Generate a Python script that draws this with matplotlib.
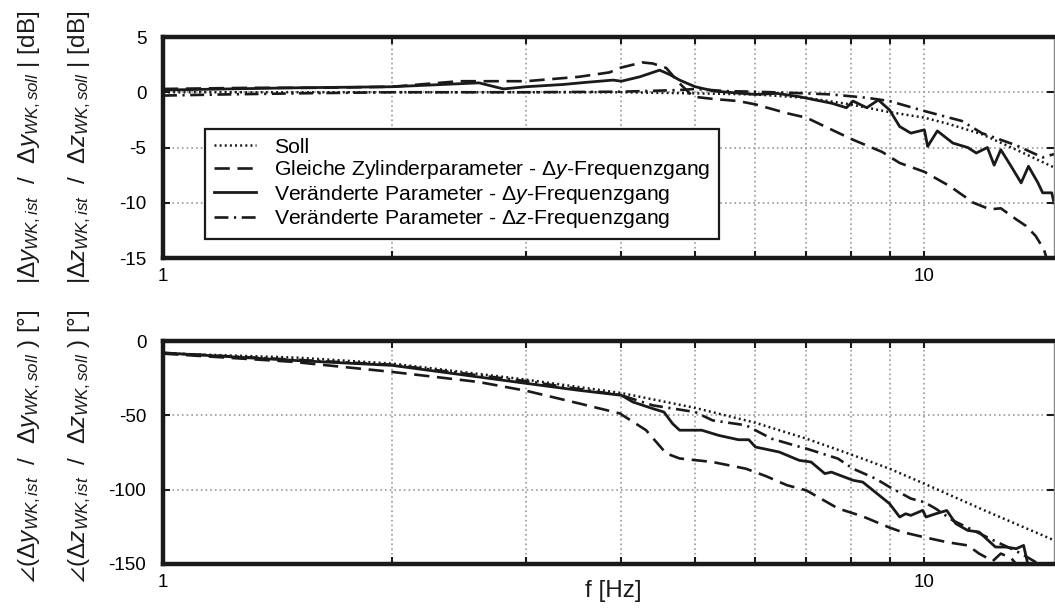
import matplotlib
matplotlib.use("Agg")
import matplotlib.pyplot as plt
from matplotlib.ticker import FixedLocator, NullFormatter, FixedFormatter
from matplotlib.lines import Line2D

plt.rcParams["font.family"] = ["Liberation Sans", "DejaVu Sans"]
plt.rcParams["mathtext.fontset"] = "custom"
plt.rcParams["mathtext.rm"] = "Liberation Sans"
plt.rcParams["mathtext.it"] = "Liberation Sans:italic"
plt.rcParams["mathtext.sf"] = "Liberation Sans"
plt.rcParams["mathtext.fallback"] = "stixsans"
plt.rcParams["lines.scale_dashes"] = False

# ---------------- Amplitudengang [dB] ----------------
f_soll_mag = [1.0, 2.0, 3.0, 4.0, 5.0, 6.0, 7.0, 8.0, 9.0, 10.0, 10.8, 11.9, 13.2, 14.8]
soll_mag = [0.0, 0.0, 0.0, 0.0, -0.1, -0.2, -0.5, -1.1, -1.8, -2.3, -2.9, -3.8, -5.2, -6.8]

f_gleich_mag = [1.0, 1.3, 1.6, 2.0, 2.45, 3.0, 3.52, 3.86, 3.98, 4.26, 4.4, 4.58, 4.77,
                4.97, 5.27, 5.7, 6.0, 6.6, 7.0, 7.56, 8.06, 8.8, 9.28, 10.0, 10.8,
                11.6, 12.2, 12.6, 13.2, 13.6, 14.0, 14.35, 14.5]
gleich_mag = [0.3, 0.4, 0.4, 0.5, 1.0, 1.0, 1.4, 1.8, 2.2, 2.7, 2.6, 2.2, 0.8,
              -0.4, -0.6, -0.8, -1.1, -1.9, -2.3, -3.4, -4.3, -5.4, -6.4, -7.2, -8.5,
              -10.0, -10.6, -10.5, -11.5, -12.1, -13.0, -14.2, -15.2]

f_dy_mag = [1.0, 1.48, 2.0, 2.6, 2.8, 3.0, 3.35, 3.6, 3.9, 4.0, 4.23, 4.49, 4.63, 4.77,
            5.0, 5.3, 6.0, 6.4, 6.85, 7.56, 7.9, 8.06, 8.4, 8.7, 9.0, 9.28, 9.6, 10.0,
            10.1, 10.4, 10.9, 11.4, 11.7, 12.1, 12.35, 12.6, 13.0, 13.4, 13.7, 14.1,
            14.3, 14.7, 14.8]
dy_mag = [0.2, 0.4, 0.5, 0.85, 0.3, 0.5, 0.7, 0.9, 1.1, 1.0, 1.4, 2.0, 1.6, 1.1,
          0.5, 0.1, -0.2, -0.1, -0.4, -1.0, -1.4, -0.8, -1.4, -0.7, -1.6, -3.1, -3.7, -3.4,
          -4.9, -3.5, -4.6, -5.0, -5.5, -5.0, -6.6, -5.2, -6.7, -8.2, -6.7, -8.2,
          -9.1, -9.1, -10.0]

f_dz_mag = [1.0, 1.2, 1.5, 2.0, 3.0, 4.0, 4.77, 5.0, 5.5, 6.0, 7.0, 7.56, 8.4, 9.0,
            10.0, 11.2, 11.9, 13.2, 14.3, 14.8]
dz_mag = [-0.3, -0.2, -0.1, 0.0, 0.0, 0.05, 0.2, 0.3, 0.1, 0.05, -0.1, -0.2, -0.5, -0.8,
          -1.7, -2.6, -3.7, -4.8, -5.9, -5.6]

# ---------------- Phasengang [°] ----------------
f_soll_ph = [1.0, 1.5, 2.0, 3.0, 4.0, 5.0, 6.0, 7.0, 8.0, 9.0, 10.0, 12.0, 14.8]
soll_ph = [-8.3, -11.2, -15.2, -26.0, -35.0, -45.0, -55.0, -65.7, -76.2, -85.9, -96.0,
           -114.0, -134.0]

f_gleich_ph = [1.0, 1.48, 2.0, 2.6, 3.0, 3.52, 3.98, 4.31, 4.58, 4.77, 5.27, 5.83, 6.2,
               6.6, 7.0, 7.7, 8.3, 9.0, 9.35, 10.0, 10.7, 11.4, 11.8, 12.3, 12.6, 13.0,
               13.3]
gleich_ph = [-8.5, -14.0, -20.8, -27.6, -33.5, -42.0, -48.7, -60.0, -75.6, -79.0, -81.4,
             -85.9, -91.0, -97.0, -100.5, -112.6, -118.0, -125.5, -128.5, -132.0, -135.3,
             -137.5, -143.0, -148.0, -143.0, -146.0, -152.0]

f_dy_ph = [1.0, 1.48, 2.0, 3.0, 3.52, 4.0, 4.14, 4.4, 4.55, 4.67, 4.77, 5.1, 5.37, 5.7,
           5.88, 6.0, 6.45, 6.85, 7.1, 7.4, 7.55, 8.06, 8.3, 9.0, 9.28, 9.45, 9.6, 9.95,
           10.05, 10.35, 10.7, 11.0, 11.4, 11.8, 12.4, 12.8, 13.2, 13.5, 13.7]
dy_ph = [-8.0, -13.0, -16.4, -28.5, -33.2, -36.5, -41.0, -45.5, -47.8, -55.6, -60.0,
         -60.0, -63.5, -66.4, -66.4, -71.3, -74.7, -80.3, -81.4, -89.2, -88.2, -93.7,
         -94.9, -109.4, -118.4, -116.2, -117.3, -113.9, -118.4, -116.2, -114.0, -122.9,
         -127.4, -128.5, -138.6, -138.6, -139.7, -137.5, -152.0]

f_dz_ph = [1.0, 1.48, 2.0, 3.0, 4.0, 4.4, 5.0, 5.27, 5.83, 6.3, 6.75, 7.0, 7.7, 8.06,
           8.63, 9.0, 9.6, 10.0, 10.35, 10.9, 11.6, 12.2, 13.0, 13.4, 14.0, 14.3]
dz_ph = [-8.0, -12.5, -16.0, -27.0, -36.5, -43.3, -47.8, -53.4, -56.7, -65.7, -70.2,
         -72.4, -79.1, -85.9, -92.6, -98.2, -106.0, -108.4, -112.8, -120.7, -127.4,
         -133.0, -139.7, -143.0, -148.7, -152.0]

labels = [
    "Soll",
    r"Gleiche Zylinderparameter - $\Delta y$-Frequenzgang",
    r"Veränderte Parameter - $\Delta y$-Frequenzgang",
    r"Veränderte Parameter - $\Delta z$-Frequenzgang",
]

ink = "#1a1a1a"
styles = [
    dict(color=ink, lw=1.8, linestyle=(0, (1.4, 2.3))),
    dict(color=ink, lw=1.9, linestyle=(0, (11, 5.5))),
    dict(color=ink, lw=2.0, linestyle="-"),
    dict(color=ink, lw=1.9, linestyle=(0, (10, 4, 1.6, 4))),
]

fs_tick = 13.5
fs_leg = 15.2
fig = plt.figure(figsize=(10.55, 6.12), dpi=100)
W, H = 1055.0, 612.0
x0, x1 = 163.0, 1054.0
ax_mag = fig.add_axes([x0 / W, 1 - 258 / H, (x1 - x0) / W, 221 / H])
ax_ph = fig.add_axes([x0 / W, 1 - 564 / H, (x1 - x0) / W, 223 / H])

for ax in (ax_mag, ax_ph):
    ax.set_xscale("log")
    ax.set_xlim(1, 14.8)
    ax.xaxis.set_major_locator(FixedLocator([1, 10]))
    ax.xaxis.set_major_formatter(FixedFormatter(["1", "10"]))
    ax.xaxis.set_minor_locator(FixedLocator([2, 3, 4, 5, 6, 7, 8, 9]))
    ax.xaxis.set_minor_formatter(NullFormatter())
    ax.grid(True, which="both", axis="x", color="#a0a0a0", lw=1.3, linestyle=(0, (1.2, 2.2)))
    ax.grid(True, which="major", axis="y", color="#a0a0a0", lw=1.3, linestyle=(0, (1.2, 2.2)))
    ax.tick_params(which="both", direction="in", top=True, right=True, labelsize=fs_tick,
                   length=5, width=1.5, color=ink)
    ax.tick_params(axis="x", which="major", pad=7)
    ax.tick_params(axis="y", which="major", pad=12)
    for side in ("top", "bottom", "left"):
        ax.spines[side].set_linewidth(3.2)
        ax.spines[side].set_color(ink)
    ax.spines["right"].set_linewidth(1.0)
    ax.spines["right"].set_color("#888888")

ax_mag.set_ylim(-15, 5)
ax_mag.set_yticks([5, 0, -5, -10, -15])
ax_mag.set_yticklabels(["5", "0", "-5", "-10", "-15"])
ax_ph.set_ylim(-150, 0)
ax_ph.set_yticks([0, -50, -100, -150])
ax_ph.set_yticklabels(["0", "-50", "-100", "-150"])

mag_series = [(f_soll_mag, soll_mag), (f_gleich_mag, gleich_mag),
              (f_dy_mag, dy_mag), (f_dz_mag, dz_mag)]
ph_series = [(f_soll_ph, soll_ph), (f_gleich_ph, gleich_ph),
             (f_dy_ph, dy_ph), (f_dz_ph, dz_ph)]

for (fx, v), st in zip(mag_series, styles):
    ax_mag.plot(fx, v, **st, clip_on=True)
for (fx, v), st in zip(ph_series, styles):
    ax_ph.plot(fx, v, **st, clip_on=True)

handles = [Line2D([], [], **st) for st in styles]
leg = ax_mag.legend(handles, labels, loc="upper left", bbox_to_anchor=(0.047, 0.584),
                    borderaxespad=0, fancybox=False, framealpha=1, fontsize=fs_leg,
                    handlelength=2.0, handletextpad=0.85, borderpad=0.42,
                    labelspacing=0.07)
leg.get_frame().set_edgecolor(ink)
leg.get_frame().set_linewidth(1.6)

fs_lab = 17.5
fig.text(613 / W, 1 - 591 / H, "f [Hz]", ha="center", va="center", fontsize=fs_lab, color=ink)

lab_kw = dict(rotation=90, rotation_mode="anchor", ha="center", va="baseline",
              fontsize=fs_lab, color=ink)
fig.text(35 / W, 1 - 147 / H, r"|$\Delta y_{WK,ist}$  /  $\Delta y_{WK,soll}$ | [dB]", **lab_kw)
fig.text(85 / W, 1 - 147 / H, r"|$\Delta z_{WK,ist}$  /  $\Delta z_{WK,soll}$ | [dB]", **lab_kw)
fig.text(35 / W, 1 - 446 / H, r"$\angle$($\Delta y_{WK,ist}$  /  $\Delta y_{WK,soll}$ ) [°]", **lab_kw)
fig.text(85 / W, 1 - 446 / H, r"$\angle$($\Delta z_{WK,ist}$  /  $\Delta z_{WK,soll}$ ) [°]", **lab_kw)

fig.savefig("out.png", dpi=100)
